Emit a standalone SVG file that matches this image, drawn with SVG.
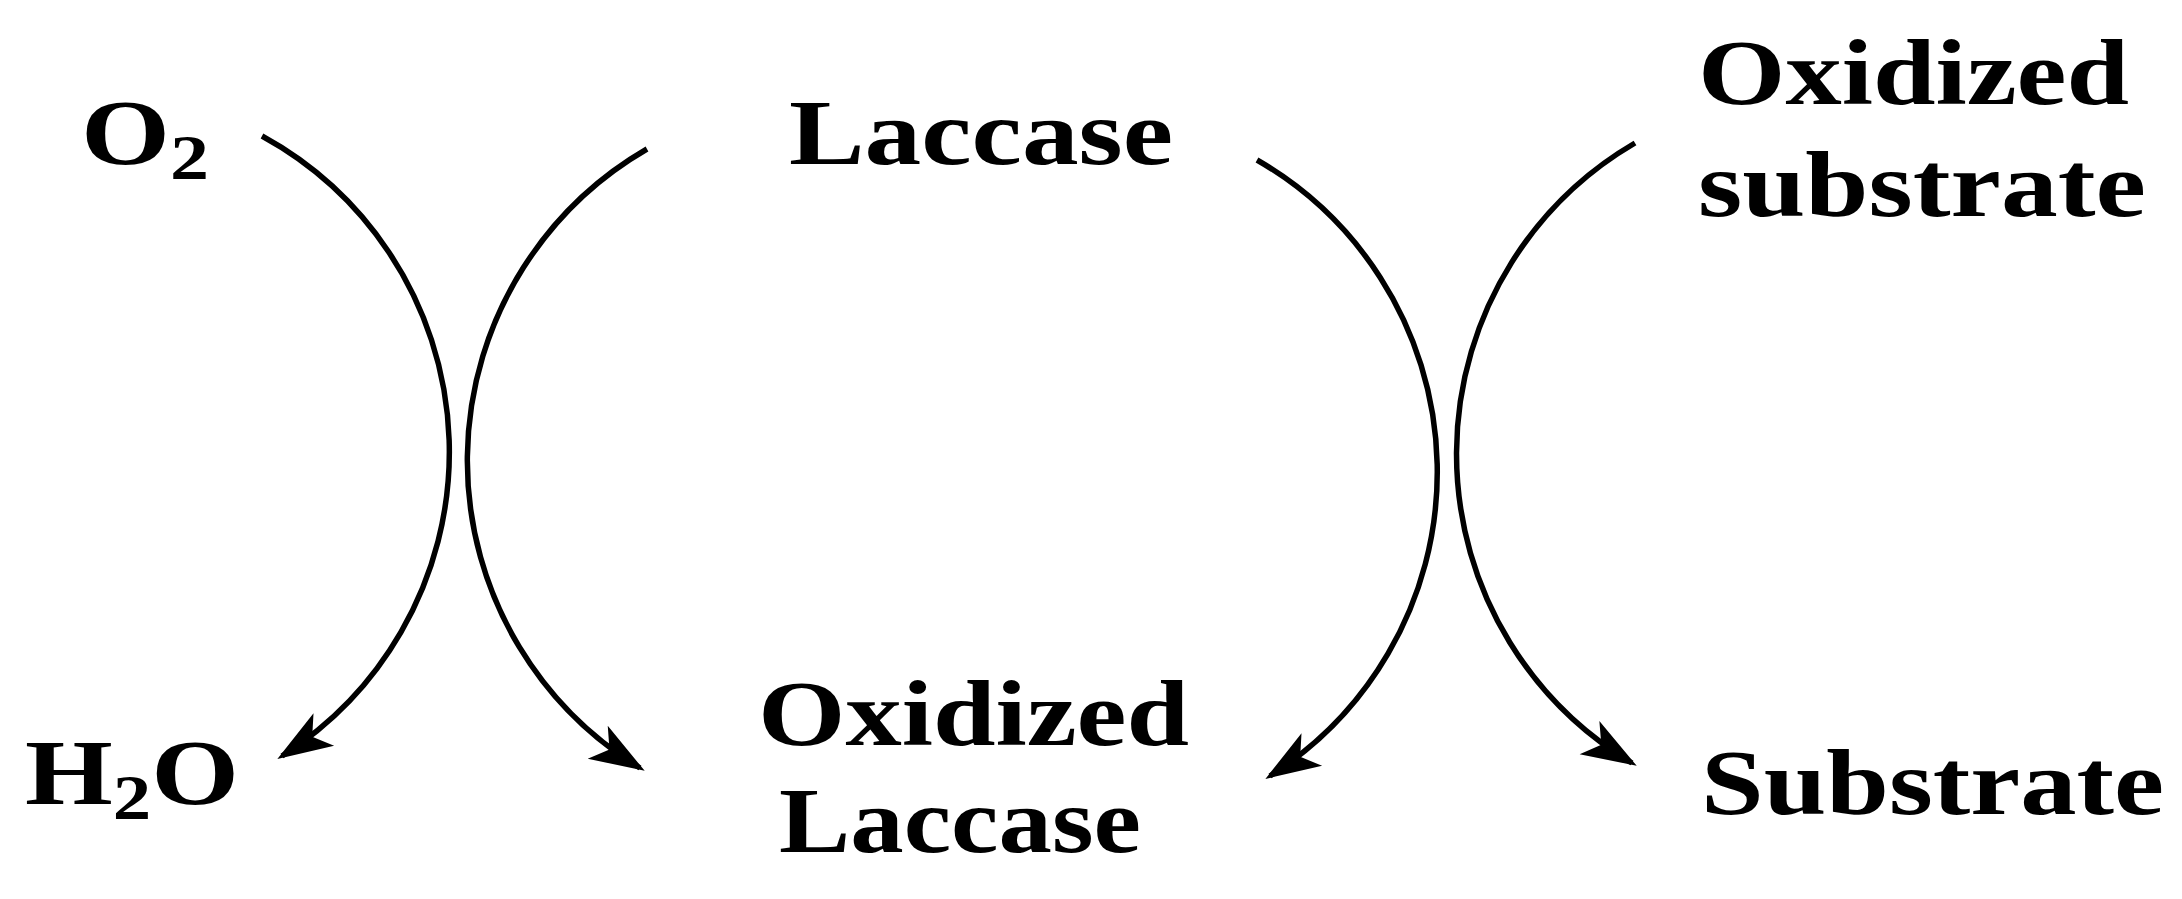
<svg xmlns="http://www.w3.org/2000/svg" width="2182" height="899" viewBox="0 0 2182 899">
<style>
text{font-family:"Liberation Serif","Times New Roman",serif;font-weight:bold;font-size:94px;fill:#000}
.c{fill:none;stroke:#000;stroke-width:5.5}
</style>
<defs>
<marker id="ah" viewBox="0 0 20 14" refX="18" refY="7" markerWidth="10" markerHeight="7.5" markerUnits="strokeWidth" orient="auto">
<path d="M0,0 L20,7 L0,14 L5,7 Z" fill="#000"/>
</marker>
</defs>
<rect width="2182" height="899" fill="#fff"/>
<g id="connectors">
<path class="c" d="M262,136 A360,360 0 0 1 282,756" marker-end="url(#ah)"/>
<path class="c" d="M647,149 A360,360 0 0 0 640,768" marker-end="url(#ah)"/>
<path class="c" d="M1257,160 A360,360 0 0 1 1270,776" marker-end="url(#ah)"/>
<path class="c" d="M1635,143 A360,360 0 0 0 1632,763" marker-end="url(#ah)"/>
</g>
<g id="o2"><text x="81" y="164" textLength="128" lengthAdjust="spacingAndGlyphs">O<tspan font-size="64" dy="15">2</tspan></text></g>
<g id="laccase"><text x="789" y="164" textLength="384" lengthAdjust="spacingAndGlyphs">Laccase</text></g>
<g id="oxsub"><text x="1698" y="104" textLength="431" lengthAdjust="spacingAndGlyphs">Oxidized</text><text x="1698" y="216" textLength="448" lengthAdjust="spacingAndGlyphs">substrate</text></g>
<g id="h2o"><text x="25" y="804" textLength="214" lengthAdjust="spacingAndGlyphs">H<tspan font-size="64" dy="15">2</tspan><tspan dy="-15">O</tspan></text></g>
<g id="oxlac"><text x="758" y="745" textLength="431" lengthAdjust="spacingAndGlyphs">Oxidized</text><text x="779" y="852" textLength="362" lengthAdjust="spacingAndGlyphs">Laccase</text></g>
<g id="substrate"><text x="1701" y="814" textLength="463" lengthAdjust="spacingAndGlyphs">Substrate</text></g>
</svg>
